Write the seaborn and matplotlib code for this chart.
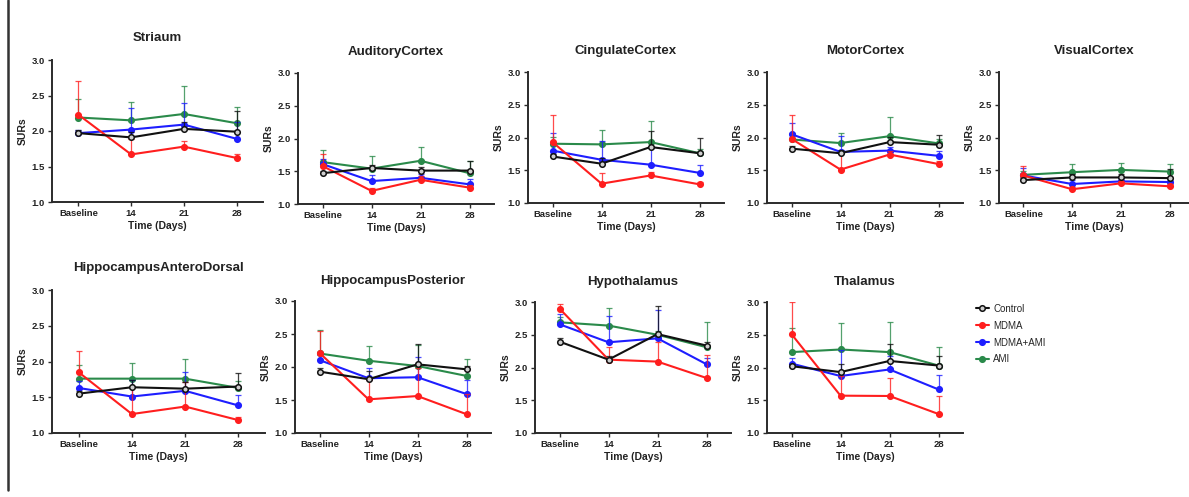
import numpy as np
import pandas as pd
import matplotlib
matplotlib.use("Agg")
import matplotlib.pyplot as plt
from matplotlib.lines import Line2D
import seaborn as sns

# ---------------- data ----------------
TIMES = ["Baseline", "14", "21", "28"]
GROUPS = ["Control", "MDMA", "MDMA+AMI", "AMI"]
COLORS = ["#111111", "#FF1E1E", "#1E1EFF", "#2A8A4A"]
YTICKS = [1.0, 1.5, 2.0, 2.5, 3.0]

REGIONS = ["Striaum", "AuditoryCortex", "CingulateCortex", "MotorCortex", "VisualCortex",
           "HippocampusAnteroDorsal", "HippocampusPosterior", "Hypothalamus", "Thalamus"]

# means per group (Control, MDMA, MDMA+AMI, AMI) at Baseline, 14, 21, 28
STRIAUM_MEAN = [[1.97, 1.91, 2.03, 1.99], [2.23, 1.67, 1.78, 1.62],
                [1.97, 2.02, 2.09, 1.89], [2.19, 2.15, 2.24, 2.11]]
STRIAUM_ERR = [[0.04, 0.08, 0.10, 0.29], [0.48, 0.22, 0.08, 0.05],
               [0.04, 0.30, 0.31, 0.24], [0.26, 0.26, 0.40, 0.23]]

AUDITORY_MEAN = [[1.47, 1.55, 1.51, 1.51], [1.58, 1.20, 1.37, 1.25],
                 [1.61, 1.35, 1.40, 1.30], [1.64, 1.54, 1.66, 1.47]]
AUDITORY_ERR = [[0.03, 0.05, 0.05, 0.14], [0.19, 0.05, 0.05, 0.04],
                [0.08, 0.10, 0.06, 0.08], [0.18, 0.19, 0.21, 0.19]]

CINGULATE_MEAN = [[1.71, 1.60, 1.855, 1.76], [1.93, 1.295, 1.42, 1.285],
                  [1.80, 1.66, 1.585, 1.46], [1.905, 1.895, 1.93, 1.76]]
CINGULATE_ERR = [[0.04, 0.08, 0.24, 0.24], [0.41, 0.17, 0.05, 0.04],
                 [0.27, 0.28, 0.25, 0.12], [0.10, 0.22, 0.32, 0.06]]

MOTOR_MEAN = [[1.83, 1.76, 1.93, 1.89], [1.98, 1.51, 1.74, 1.595],
              [2.05, 1.78, 1.80, 1.72], [1.97, 1.915, 2.02, 1.91]]
MOTOR_ERR = [[0.04, 0.05, 0.08, 0.15], [0.37, 0.25, 0.05, 0.04],
             [0.17, 0.24, 0.06, 0.08], [0.10, 0.16, 0.29, 0.06]]

VISUAL_MEAN = [[1.35, 1.39, 1.39, 1.38], [1.42, 1.21, 1.30, 1.255],
               [1.42, 1.29, 1.33, 1.32], [1.43, 1.47, 1.505, 1.48]]
VISUAL_ERR = [[0.03, 0.05, 0.06, 0.14], [0.14, 0.04, 0.04, 0.04],
              [0.11, 0.06, 0.05, 0.06], [0.06, 0.13, 0.11, 0.12]]

HIPPAD_MEAN = [[1.55, 1.64, 1.62, 1.65], [1.85, 1.265, 1.37, 1.18],
               [1.63, 1.51, 1.59, 1.385], [1.76, 1.76, 1.76, 1.63]]
HIPPAD_ERR = [[0.04, 0.10, 0.10, 0.19], [0.30, 0.38, 0.35, 0.05],
              [0.10, 0.23, 0.27, 0.14], [0.19, 0.22, 0.27, 0.10]]

HIPPPOST_MEAN = [[1.93, 1.815, 2.04, 1.965], [2.215, 1.51, 1.56, 1.285],
                 [2.105, 1.83, 1.845, 1.59], [2.205, 2.095, 2.015, 1.865]]
HIPPPOST_ERR = [[0.05, 0.125, 0.31, 0.05], [0.33, 0.30, 0.42, 0.30],
                [0.08, 0.15, 0.30, 0.22], [0.35, 0.23, 0.32, 0.25]]

HYPO_MEAN = [[2.395, 2.12, 2.51, 2.335], [2.90, 2.12, 2.09, 1.84],
             [2.66, 2.385, 2.445, 2.05], [2.69, 2.64, 2.50, 2.31]]
HYPO_ERR = [[0.06, 0.05, 0.43, 0.05], [0.07, 0.20, 0.30, 0.35],
            [0.16, 0.40, 0.43, 0.10], [0.08, 0.27, 0.05, 0.39]]

THAL_MEAN = [[2.02, 1.93, 2.10, 2.03], [2.51, 1.57, 1.565, 1.29],
             [2.06, 1.87, 1.97, 1.665], [2.235, 2.275, 2.235, 2.03]]
THAL_ERR = [[0.04, 0.13, 0.26, 0.14], [0.49, 0.30, 0.28, 0.28],
            [0.08, 0.40, 0.20, 0.22], [0.37, 0.40, 0.46, 0.29]]

MEANS = [STRIAUM_MEAN, AUDITORY_MEAN, CINGULATE_MEAN, MOTOR_MEAN, VISUAL_MEAN,
         HIPPAD_MEAN, HIPPPOST_MEAN, HYPO_MEAN, THAL_MEAN]
ERRS = [STRIAUM_ERR, AUDITORY_ERR, CINGULATE_ERR, MOTOR_ERR, VISUAL_ERR,
        HIPPAD_ERR, HIPPPOST_ERR, HYPO_ERR, THAL_ERR]

# ---------------- layout (pixels: left, right, top, bottom, xmax, title pad) ----------------
W, H = 1189, 497
BOXES = [(52, 263, 60, 202, 3.5, 14), (298, 494, 73, 204, 3.5, 13), (528, 724, 72, 203, 3.5, 13),
         (767, 963, 72, 203, 3.5, 13), (999, 1189, 72, 203, 3.4, 13),
         (52, 265, 290, 433, 3.5, 14), (295, 491, 301, 433, 3.5, 12), (535, 731, 302, 433, 3.5, 12),
         (767, 963, 302, 433, 3.5, 12)]

sns.set_theme(style="ticks")
plt.rcParams["font.family"] = ["Liberation Sans", "DejaVu Sans"]

fig = plt.figure(figsize=(W / 100, H / 100), dpi=100)
fig.patch.set_facecolor("white")

AXC = "#2b2b2b"
DRAW_ORDER = [3, 2, 1, 0]  # AMI bottom, Control on top
handles = []

for r, (name, means, errs, box) in enumerate(zip(REGIONS, MEANS, ERRS, BOXES)):
    l, rr, t, b, xmax, tpad = box
    ax = fig.add_axes([l / W, 1 - b / H, (rr - l) / W, (b - t) / H])
    pos = np.arange(len(TIMES))
    for z, gi in enumerate(DRAW_ORDER):
        c = COLORS[gi]
        m = np.array(means[gi])
        e = np.array(errs[gi])
        ax.errorbar(pos, m, yerr=[np.zeros_like(e), e], fmt="none", ecolor=c,
                    elinewidth=0.9, capsize=2.5, capthick=0.9, alpha=0.8, zorder=2 + z)
        df = pd.DataFrame({"pos": pos, "SURs": m})
        face = "#cfcfcf" if gi == 0 else c
        sns.lineplot(data=df, x="pos", y="SURs", ax=ax, color=c, linewidth=1.5,
                     marker="o", markersize=4,
                     markerfacecolor=face,
                     markeredgecolor=c, markeredgewidth=1.1, zorder=3 + z,
                     legend=False)
        if r == 0:
            handles.append((gi, Line2D([0], [0], color=c, lw=1.5, marker="o", markersize=4,
                                       markerfacecolor=face,
                                       markeredgecolor=c, markeredgewidth=1.1)))
    ax.set_xlim(-0.5, xmax)
    ax.set_ylim(1.0, 3.0)
    ax.set_yticks(YTICKS)
    ax.set_yticklabels([f"{v:.1f}" for v in YTICKS])
    ax.set_xticks(pos)
    ax.set_xticklabels(TIMES)
    for s in ["top", "right"]:
        ax.spines[s].set_visible(False)
    for s in ["left", "bottom"]:
        ax.spines[s].set_color(AXC)
        ax.spines[s].set_linewidth(1.4)
    ax.tick_params(axis="both", length=3, width=1.0, color=AXC, labelsize=6.8,
                   pad=2, labelcolor="#222222")
    for lab in ax.get_xticklabels() + ax.get_yticklabels():
        lab.set_fontweight("bold")
    ax.set_xlabel("Time (Days)", fontsize=7.5, fontweight="bold", color="#222222", labelpad=2)
    ax.set_ylabel("SURs", fontsize=7.5, fontweight="bold", color="#222222", labelpad=3)
    ax.set_title(name, fontsize=9.5, fontweight="bold", color="#222222", pad=tpad)
    ax.set_facecolor("none")

handles = [h for _, h in sorted(handles, key=lambda x: x[0])]
fig.legend(handles, GROUPS, loc="upper left", bbox_to_anchor=(972 / W, 1 - 300 / H),
           frameon=False, fontsize=7, handlelength=1.3, handletextpad=0.5,
           labelspacing=0.7, borderaxespad=0)

fig.add_artist(Line2D([8 / W, 8 / W], [1 - 490 / H, 1.0], color="#333333", lw=1.8))

fig.savefig("out.png", dpi=100)
